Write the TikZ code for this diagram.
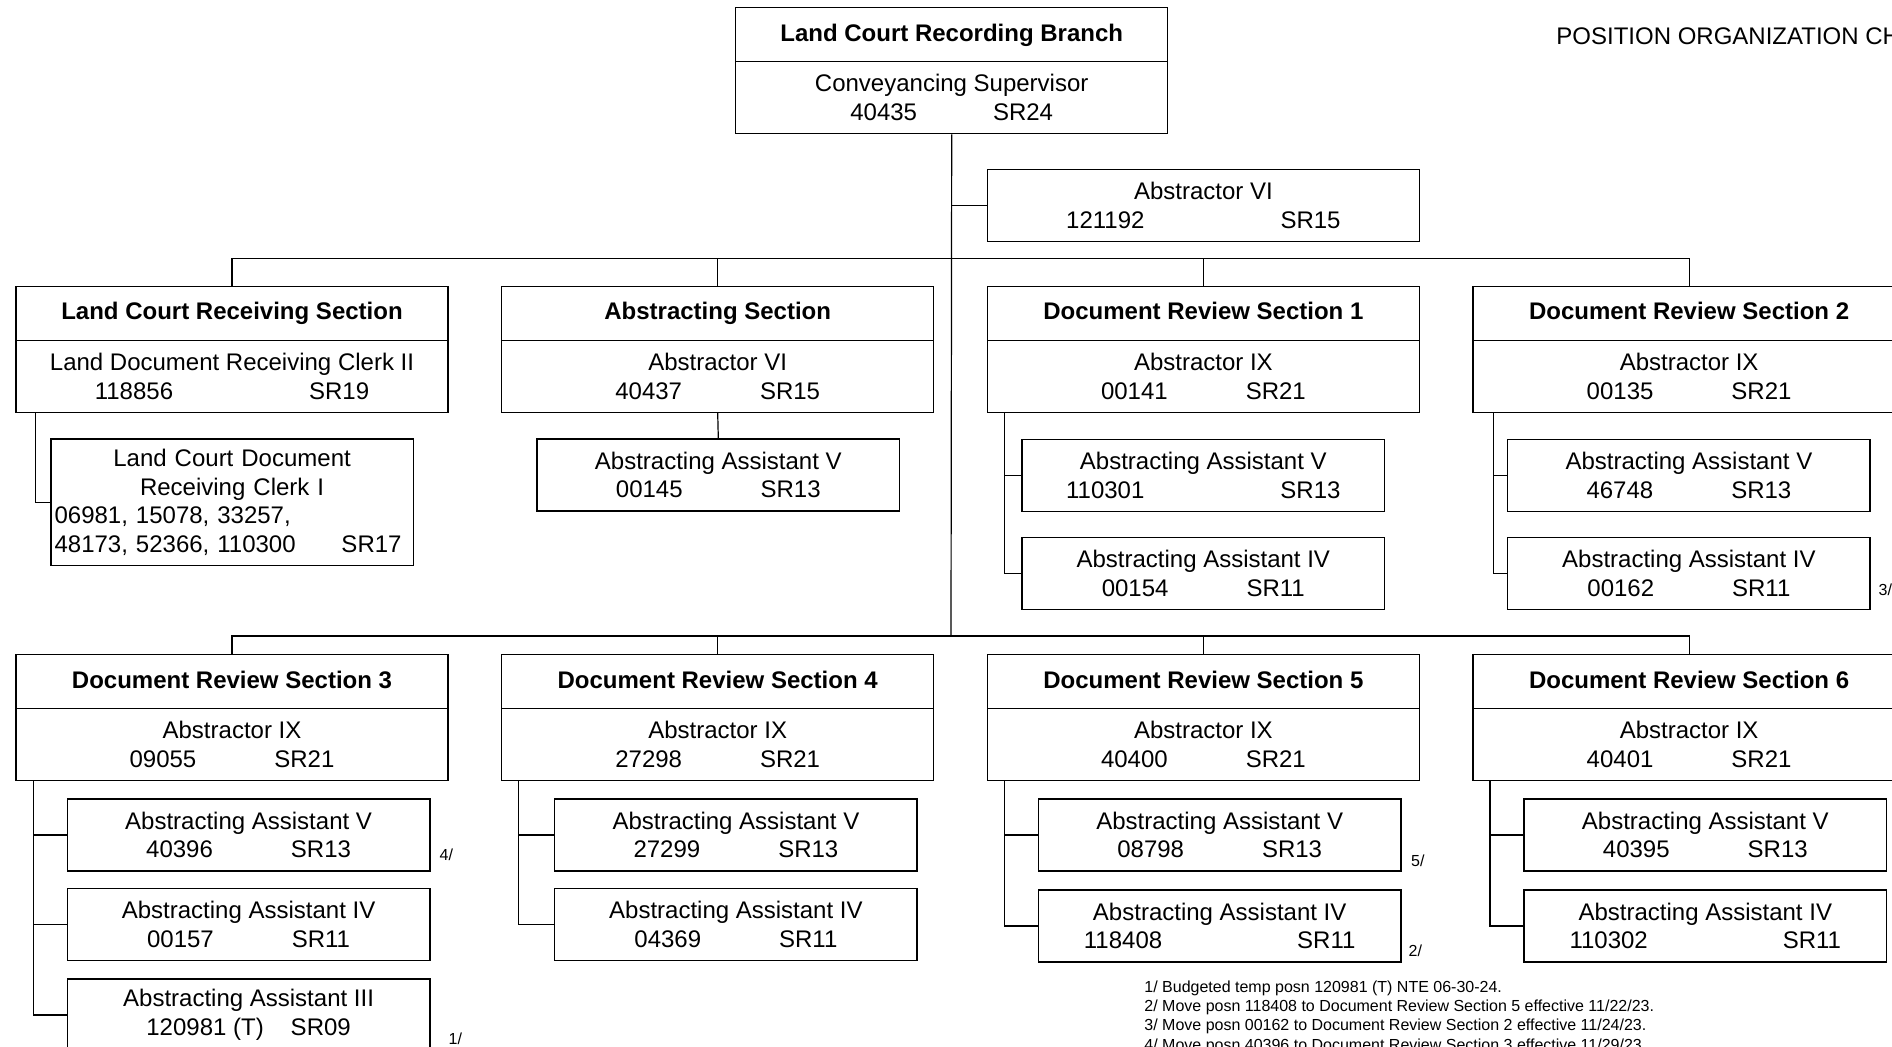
\documentclass[tikz,border=0pt]{standalone}
\usepackage{fontspec}
\setmainfont{Liberation Sans}

\newcommand{\gapn}{\hspace{39pt}}
\newcommand{\gapw}{\hspace{68pt}}

\tikzset{
  boxline/.style={draw, line width=0.7pt, inner sep=0pt},
  headbox/.style={boxline, minimum width=216pt, minimum height=27pt, anchor=north west,
    font=\fontsize{12}{14.3}\selectfont\bfseries, text height=9pt, text depth=2.5pt},
  postbox/.style={boxline, minimum width=216pt, minimum height=36pt, align=center, anchor=north west},
  subbox/.style={boxline, minimum width=181.2pt, minimum height=36pt, align=center, anchor=north west},
  link/.style={line width=0.6pt},
  fnmark/.style={font=\fontsize{8}{9.6}\selectfont, inner sep=0pt, anchor=base west},
  notes/.style={font=\fontsize{8}{9.6}\selectfont, inner sep=0pt, anchor=north west, align=left},
}

\begin{document}
\begin{tikzpicture}[x=0.5pt,y=0.5pt,yscale=-1,font=\fontsize{12}{14.3}\selectfont]
\useasboundingbox (0,0) rectangle (1892,1047);
\clip (0,0) rectangle (1892,1047);

%Box: branch
\node[headbox] (branch) at (735,7) {Land Court Recording Branch};
\node[postbox] (super) at (735,61) {Conveyancing Supervisor\\40435\hspace{38pt}SR24};
%Box: staff
\node[postbox] (staff) at (986.7,168.7) {Abstractor VI\\121192\gapw SR15};

%Boxes: first row of sections
\node[headbox] (lcrs) at (15.3,285.7) {Land Court Receiving Section};
\node[postbox] (lcrsb) at (15.3,339.7) {Land Document Receiving Clerk II\\118856\gapw SR19};
\node[headbox] (abs) at (501,285.7) {Abstracting Section};
\node[postbox] (absb) at (501,339.7) {Abstractor VI\\40437\gapn SR15};
\node[headbox] (dr1) at (986.7,285.7) {Document Review Section 1};
\node[postbox] (dr1b) at (986.7,339.7) {Abstractor IX\\00141\gapn SR21};
\node[headbox] (dr2) at (1472.4,285.7) {Document Review Section 2};
\node[postbox] (dr2b) at (1472.4,339.7) {Abstractor IX\\00135\gapn SR21};

%Boxes: first row of positions
\node[subbox, text width=177.5pt, align=left, inner xsep=1.85pt, minimum height=63.3pt,
  font=\fontsize{12}{14.45}\selectfont] (lcclerk) at (50.2,438.3)
  {\makebox[\linewidth]{Land Court Document}\\\makebox[\linewidth]{Receiving Clerk I}\\
   06981, 15078, 33257,\\48173, 52366, 110300\hfill SR17\kern4pt};
\node[subbox] (absasst) at (536.4,438.3) {Abstracting Assistant V\\00145\gapn SR13};
\node[subbox] (dr1a) at (1021.4,438.7) {Abstracting Assistant V\\110301\gapw SR13};
\node[subbox] (dr1c) at (1021.4,536.7) {Abstracting Assistant IV\\00154\gapn SR11};
\node[subbox] (dr2a) at (1507,438.7) {Abstracting Assistant V\\46748\gapn SR13};
\node[subbox] (dr2c) at (1507,536.7) {Abstracting Assistant IV\\00162\gapn SR11};

%Boxes: second row of sections
\node[headbox] (dr3) at (15.3,654) {Document Review Section 3};
\node[postbox] (dr3b) at (15.3,708) {Abstractor IX\\09055\gapn SR21};
\node[headbox] (dr4) at (501,654) {Document Review Section 4};
\node[postbox] (dr4b) at (501,708) {Abstractor IX\\27298\gapn SR21};
\node[headbox] (dr5) at (986.7,654) {Document Review Section 5};
\node[postbox] (dr5b) at (986.7,708) {Abstractor IX\\40400\gapn SR21};
\node[headbox] (dr6) at (1472.4,654) {Document Review Section 6};
\node[postbox] (dr6b) at (1472.4,708) {Abstractor IX\\40401\gapn SR21};

%Boxes: second row of positions
\node[subbox] (dr3a) at (66.7,798.3) {Abstracting Assistant V\\40396\gapn SR13};
\node[subbox] (dr3c) at (66.7,888) {Abstracting Assistant IV\\00157\gapn SR11};
\node[subbox] (dr3d) at (66.7,978.3) {Abstracting Assistant III\\120981 (T)\hspace{13.5pt}SR09};
\node[subbox] (dr4a) at (554,798.3) {Abstracting Assistant V\\27299\gapn SR13};
\node[subbox] (dr4c) at (554,888) {Abstracting Assistant IV\\04369\gapn SR11};
\node[subbox] (dr5a) at (1037.8,798.3) {Abstracting Assistant V\\08798\gapn SR13};
\node[subbox] (dr5c) at (1037.8,889.3) {Abstracting Assistant IV\\118408\hspace{67.5pt}SR11};
\node[subbox] (dr6a) at (1523.4,798.3) {Abstracting Assistant V\\40395\gapn SR13};
\node[subbox] (dr6c) at (1523.4,889.3) {Abstracting Assistant IV\\110302\hspace{67.5pt}SR11};

%Lines: trunk and buses
\coordinate (bus1) at (951,258.3);
\coordinate (bus2) at (951,636);
\draw[link] (super.south) -- (bus2);
\draw[link] (staff.west) -- (staff.west -| super.south);
\draw[link] (lcrs.north) |- (bus1) -| (dr2.north);
\draw[link] (abs.north) -- (abs.north |- bus1);
\draw[link] (dr1.north) -- (dr1.north |- bus1);
\draw[link] (dr3.north) |- (bus2) -| (dr6.north);
\draw[link] (dr4.north) -- (dr4.north |- bus2);
\draw[link] (dr5.north) -- (dr5.north |- bus2);

%Lines: sections to positions
\draw[link] ([xshift=10.1pt]lcrsb.south west) |- (lcclerk.west);
\draw[link] (absb.south) -- (absasst.north);
\draw[link] ([xshift=8.85pt]dr1b.south west) |- (dr1a.west);
\draw[link] ([xshift=8.85pt]dr1b.south west) |- (dr1c.west);
\draw[link] ([xshift=10.4pt]dr2b.south west) |- (dr2a.west);
\draw[link] ([xshift=10.4pt]dr2b.south west) |- (dr2c.west);
\draw[link] ([xshift=9.2pt]dr3b.south west) |- (dr3a.west);
\draw[link] ([xshift=9.2pt]dr3b.south west) |- (dr3c.west);
\draw[link] ([xshift=9.2pt]dr3b.south west) |- (dr3d.west);
\draw[link] ([xshift=8.85pt]dr4b.south west) |- (dr4a.west);
\draw[link] ([xshift=8.85pt]dr4b.south west) |- (dr4c.west);
\draw[link] ([xshift=8.85pt]dr5b.south west) |- (dr5a.west);
\draw[link] ([xshift=8.85pt]dr5b.south west) |- (dr5c.west);
\draw[link] ([xshift=8.75pt]dr6b.south west) |- (dr6a.west);
\draw[link] ([xshift=8.75pt]dr6b.south west) |- (dr6c.west);

% Text Node
\node[anchor=base west, inner sep=0pt] (title) at (1556,45) {POSITION ORGANIZATION CH};
% Text Node
\node[fnmark] (n3) at (1878.3,596) {3/};
\node[fnmark] (n4) at (439.3,860.7) {4/};
\node[fnmark] (n1) at (448.3,1044.8) {1/};
\node[fnmark] (n5) at (1410.7,866.7) {5/};
\node[fnmark] (n2) at (1408.3,956.7) {2/};
% Text Node
\node[notes] (notes) at (1144,980.5) {1/ Budgeted temp posn 120981 (T) NTE 06-30-24.\\
2/ Move posn 118408 to Document Review Section 5 effective 11/22/23.\\
3/ Move posn 00162 to Document Review Section 2 effective 11/24/23.\\
4/ Move posn 40396 to Document Review Section 3 effective 11/29/23.};

\end{tikzpicture}
\end{document}
